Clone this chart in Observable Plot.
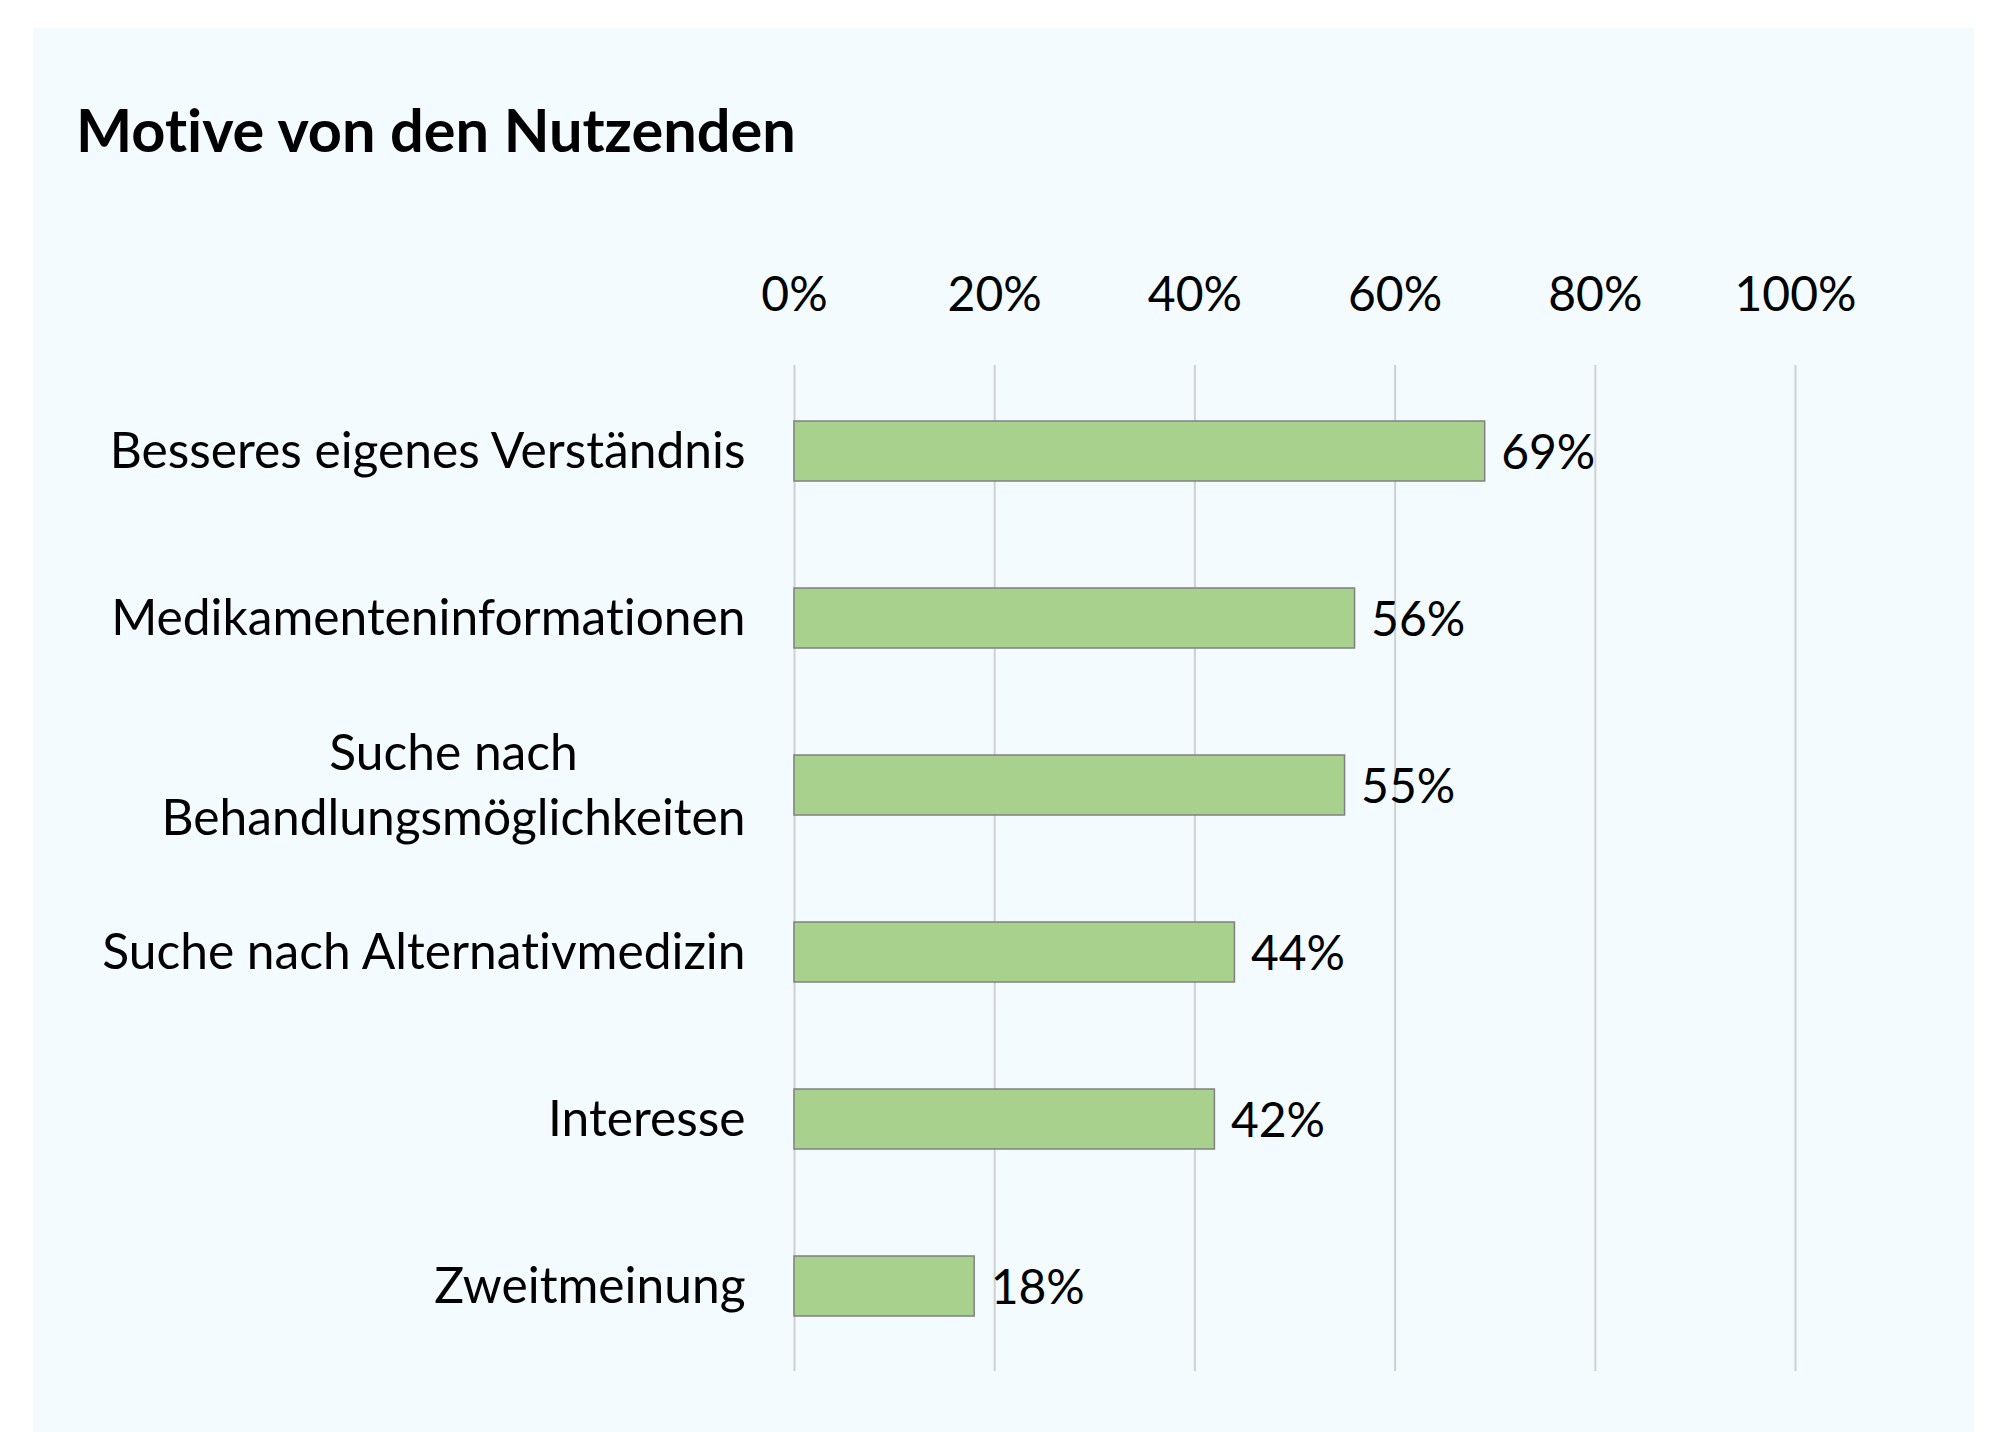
<!DOCTYPE html>
<html>
<head>
<meta charset="utf-8">
<script src="https://cdn.jsdelivr.net/npm/d3@7"></script>
<script src="https://cdn.jsdelivr.net/npm/@observablehq/plot@0.6"></script>
<style>
  html, body { margin: 0; padding: 0; background: #ffffff; width: 1996px; height: 1432px; overflow: hidden; }
  #panel { position: absolute; left: 33px; top: 28px; width: 1941px; height: 1404px; background: #f3fbfe; }
  #title { position: absolute; left: 76px; top: 100px; font-family: Lato, sans-serif; font-weight: 700; font-size: 59.5px; color: #000; line-height: 1; margin: 0; white-space: nowrap; font-variant-ligatures: none; }
  #chart { position: absolute; left: 0; top: 0; }
  svg { background: transparent !important; font-variant-ligatures: none; }
</style>
</head>
<body>
<div id="panel"></div>
<h1 id="title">Motive von den Nutzenden</h1>
<div id="chart"></div>
<script>
const categories = [
  "Besseres eigenes Verständnis",
  "Medikamenteninformationen",
  "Suche nach\nBehandlungsmöglichkeiten",
  "Suche nach Alternativmedizin",
  "Interesse",
  "Zweitmeinung"
];
const values = [69, 56, 55, 44, 42, 18];
const valueLabels = ["69%", "56%", "55%", "44%", "42%", "18%"];
const tickValues = [0, 20, 40, 60, 80, 100];
const tickLabels = ["0%", "20%", "40%", "60%", "80%", "100%"];

const data = categories.map((c, i) => ({category: c, value: values[i], label: valueLabels[i]}));
const ticks = tickValues.map((t, i) => ({t, label: tickLabels[i]}));

const FONT = "Lato, sans-serif";
const FS = 48;
const FS_CAT = 49.7;

const chart = Plot.plot({
  width: 1996,
  height: 1432,
  marginLeft: 794,
  marginRight: 201,
  marginTop: 365,
  marginBottom: 61,
  style: {fontFamily: FONT, fontSize: FS + "px", color: "#000", background: "transparent"},
  x: {domain: [0, 100], axis: null},
  y: {domain: categories, axis: null, paddingInner: 0.642, paddingOuter: 0.321},
  marks: [
    Plot.ruleX(ticks, {x: "t", stroke: "#d0d0d0", strokeWidth: 2}),
    Plot.text(ticks, {x: "t", text: "label", frameAnchor: "top", dy: -70, lineAnchor: "middle", textAnchor: "middle", fill: "#000", fontSize: FS}),
    Plot.barX(data, {x: "value", y: "category", fill: "#a9d18e", stroke: "#808080", strokeWidth: 1.5}),
    Plot.text(data, {x: "value", y: "category", text: "label", textAnchor: "start", dx: 16, dy: 2, fill: "#000", fontSize: FS}),
    Plot.text(data, {x: 0, y: "category", text: "category", textAnchor: "end", dx: -49, dy: -4, fill: "#000", fontSize: FS_CAT, lineHeight: 1.31, className: "catlabels"})
  ]
});
document.getElementById("chart").appendChild(chart);

// Center the lines of multi-line labels on each other while keeping the block right-aligned
chart.querySelectorAll(".catlabels text").forEach(t => {
  const spans = t.querySelectorAll("tspan");
  if (spans.length > 1) {
    let maxW = 0;
    spans.forEach(s => { maxW = Math.max(maxW, s.getComputedTextLength()); });
    t.setAttribute("text-anchor", "middle");
    spans.forEach(s => s.setAttribute("x", -maxW / 2));
  }
});
</script>
</body>
</html>
